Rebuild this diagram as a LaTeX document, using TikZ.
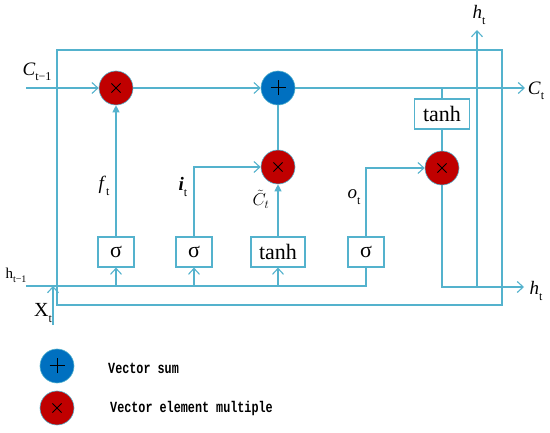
\documentclass[tikz,border=0pt]{standalone}
\usepackage{fontspec}
\setmainfont{Liberation Serif}
\newfontfamily\monof[FakeStretch=0.76]{Liberation Mono}
\usetikzlibrary{arrows.meta}
\definecolor{ln}{RGB}{84,178,205}
\definecolor{mred}{RGB}{192,0,0}
\definecolor{mblue}{RGB}{0,112,192}
\newcommand\lsub[2][12]{\raisebox{-0.28em}{\fontsize{#1}{#1}\selectfont #2}}
\begin{document}
\begin{tikzpicture}[x=1pt,y=-1pt,
 conn/.style={draw=ln, line width=1.1pt},
 oarr/.style={-{Straight Barb[length=6pt,width=11pt,line width=1.1pt]}},
 farr/.style={-{Triangle[length=7pt,width=7pt]}},
 opc/.style={circle, draw=ln, line width=0.6pt, minimum size=34pt, inner sep=0pt},
 mul/.style={opc, fill=mred, path picture={
   \draw[black, line width=0.9pt] ([shift={(-4.6pt,-4.6pt)}]path picture bounding box.center) -- ++(9.2pt,9.2pt)
     ([shift={(-4.6pt,4.6pt)}]path picture bounding box.center) -- ++(9.2pt,-9.2pt);}},
 add/.style={opc, fill=mblue, path picture={
   \draw[black, line width=1pt] ([xshift=-7.5pt]path picture bounding box.center) -- ++(15pt,0)
     ([yshift=-7.5pt]path picture bounding box.center) -- ++(0,15pt);}},
 gate/.style={draw=ln, line width=1.1pt, fill=white, minimum height=30pt, inner sep=0pt, font=\fontsize{22}{22}\selectfont},
 lbl/.style={font=\fontsize{19}{19}\selectfont, inner sep=0pt},
 leg/.style={font=\monof\bfseries\fontsize{15.5}{15.5}\selectfont, inner sep=0pt, anchor=west},
]
\useasboundingbox (0,0) rectangle (550,433);
% outer cell
\node[draw=ln, line width=1.1pt, minimum width=445pt, minimum height=255pt, inner sep=0pt] (cell) at (279.5,177.5) {};
% operators
\node[mul] (m1) at (116,88) {};
\node[add] (a1) at (278,88) {};
\node[mul] (m2) at (278,167) {};
\node[mul] (m3) at (442,168) {};
% gates
\node[gate, minimum width=55pt] (t2) at (442,114) {tanh};
\node[gate, minimum width=36pt] (s1) at (116,252) {σ};
\node[gate, minimum width=36pt] (s2) at (194,252) {σ};
\node[gate, minimum width=54pt] (t1) at (278,252) {tanh};
\node[gate, minimum width=36pt] (s3) at (366,252) {σ};
% free ends
\coordinate (cin) at (26,88);
\coordinate (cout) at (525,88);
\coordinate (hin) at (26,286);
\coordinate (hout) at (524,287);
\coordinate (hjoin) at (477,287);
\coordinate (htop) at (477,30);
\coordinate (xin) at (53,325);
% connectors
\draw[conn,oarr] (cin) -- (m1);
\draw[conn,oarr] (m1) -- (a1);
\draw[conn,oarr] (a1) -- (cout);
\draw[conn] (a1) -- (m2);
\draw[conn] (t2.north) -- (t2.north |- a1);
\draw[conn] (t2) -- (m3);
\draw[conn,farr] (s1) -- (m1);
\draw[conn,oarr] (s2.north) |- (m2);
\draw[conn,farr] (t1) -- (m2);
\draw[conn,oarr] (s3.north) |- (m3);
\draw[conn,oarr] (m3) |- (hout);
\draw[conn,oarr] (hjoin) -- (htop);
\draw[conn] (hin) -| (s3.south);
\draw[conn,oarr] (s1.south |- hin) -- (s1.south);
\draw[conn,oarr] (s2.south |- hin) -- (s2.south);
\draw[conn,oarr] (t1.south |- hin) -- (t1.south);
\draw[conn,oarr] (xin) -- (xin |- hin);
% labels
\node[lbl] (lc1) at (37,72) {\textit{C}\lsub{t−1}};
\node[lbl] (lct) at (536,91) {\textit{C}\lsub{t}};
\node[lbl] (lht) at (479,15) {\textit{h}\lsub{t}};
\node[lbl] (lho) at (536,291) {\textit{h}\lsub{t}};
\node[lbl, font=\fontsize{15}{15}\selectfont] (lhp) at (16,275) {h\lsub[10]{t−1}};
\node[lbl, font=\fontsize{20}{20}\selectfont] (lx) at (43,313) {X\lsub{t}};
\node[lbl] (lf) at (104,186) {\textit{f}\lsub{t}};
\node[lbl] (li) at (183,187) {\textbf{\textit{i}}\lsub{t}};
\node[lbl] (lo) at (354,197) {\textit{o}\lsub{t}};
\node[lbl, font=\fontsize{17.28}{17.28}\selectfont] (lcc) at (261,199) {$\tilde{C}_t$};
% legend
\node[add] (la) at (57,366) {};
\node[mul] (lm) at (57,408) {};
\node[leg] (lsum) at (108,368) {Vector sum};
\node[leg] (lmul) at (110,408) {Vector element multiple};
\end{tikzpicture}
\end{document}
